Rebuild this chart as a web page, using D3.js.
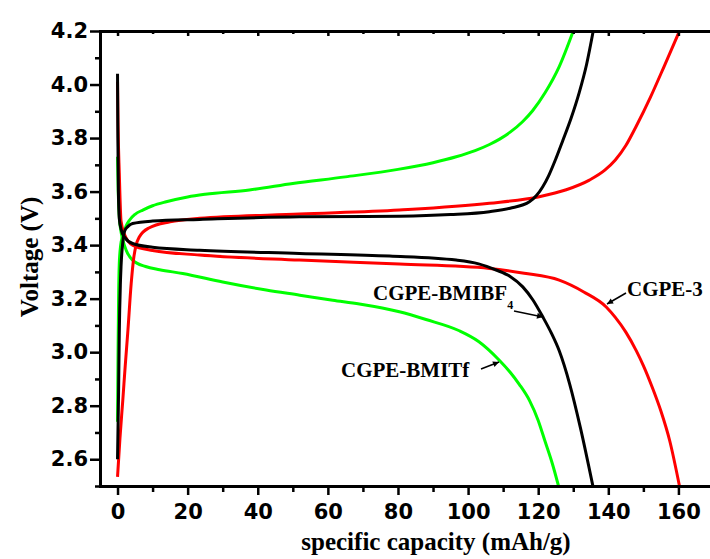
<!DOCTYPE html>
<html>
<head>
<meta charset="utf-8">
<script src="https://cdn.jsdelivr.net/npm/d3@7"></script>
<style>
  body { margin: 0; background: #fff; }
  svg { display: block; }
  .tick text { font-family: "DejaVu Sans", Arial, sans-serif; font-weight: bold; font-size: 21px; fill: #000; }
  .title { font-family: "Liberation Serif", "Times New Roman", serif; font-weight: bold; fill: #000; }
</style>
</head>
<body>
<svg width="710" height="559"></svg>
<script>
var svg = d3.select('svg');

// tick values
var xTicks = [0, 20, 40, 60, 80, 100, 120, 140, 160];
var xMinor = [10, 30, 50, 70, 90, 110, 130, 150, 170];
var yTicks = [2.6, 2.8, 3.0, 3.2, 3.4, 3.6, 3.8, 4.0, 4.2];
var yMinor = [2.5, 2.7, 2.9, 3.1, 3.3, 3.5, 3.7, 3.9, 4.1];

// CGPE-BMITf (green)
var bmitfCharge = [[0,2.74],[0.15,3.0],[0.3,3.2],[0.5,3.33],[0.9,3.4],[1.5,3.435],[2.4,3.47],[3.4,3.493],[5,3.515],[7.2,3.531],[10,3.547],[13.9,3.562],[20,3.58],[25,3.59],[37.6,3.606],[50,3.63],[65,3.655],[80,3.683],[90,3.708],[96.6,3.73],[102,3.753],[106.1,3.776],[109,3.796],[112,3.822],[115.6,3.862],[118.4,3.902],[122,3.97],[126,4.067],[130,4.2]];
var bmitfDischarge = [[0,3.73],[0.2,3.6],[0.5,3.506],[1,3.45],[1.5,3.42],[2.5,3.38],[4.3,3.344],[8,3.32],[12,3.308],[18.6,3.294],[30,3.262],[42.4,3.232],[52,3.213],[61.4,3.194],[69,3.18],[80.4,3.151],[88,3.122],[97.5,3.08],[103,3.04],[108.9,2.97],[112,2.925],[114.6,2.88],[117.5,2.82],[120,2.745],[122,2.665],[124,2.585],[125.8,2.5]];

// CGPE-BMIBF4 (black)
var bmibfCharge = [[0,2.6],[0.3,2.85],[0.5,3.07],[0.8,3.25],[1,3.32],[1.5,3.41],[2,3.452],[3,3.47],[4.3,3.481],[10,3.49],[23.4,3.496],[51.9,3.506],[80.4,3.508],[95,3.514],[106.1,3.525],[112,3.538],[117.5,3.562],[119.5,3.585],[121.3,3.618],[123,3.66],[125.1,3.725],[127,3.79],[129.4,3.875],[131.7,3.97],[133.8,4.075],[135.7,4.2]];
var bmibfDischarge = [[0,4.04],[0.1,3.8],[0.25,3.6],[0.5,3.5],[1,3.46],[2,3.43],[4.3,3.406],[10,3.392],[23.4,3.381],[51.9,3.369],[77.6,3.359],[96.6,3.344],[103,3.33],[108,3.307],[112,3.283],[115.6,3.244],[118.5,3.195],[121.3,3.132],[123.8,3.07],[126,3.005],[129,2.88],[132,2.72],[135.6,2.5]];

// CGPE-3 (red)
var cgpe3Charge = [[0,2.534],[0.7,2.68],[1.5,2.82],[2.2,2.95],[2.9,3.07],[3.9,3.257],[4.6,3.35],[5.3,3.4],[6.2,3.43],[9.1,3.465],[15,3.487],[23.4,3.5],[51.9,3.516],[80.4,3.531],[106.1,3.556],[120.3,3.581],[128,3.607],[134.6,3.643],[139,3.68],[142,3.718],[145,3.772],[148,3.845],[152,3.952],[156,4.07],[160.3,4.2]];
var cgpe3Discharge = [[0,4.01],[0.15,3.85],[0.5,3.67],[1,3.49],[2,3.44],[4.3,3.4],[10,3.38],[23.4,3.363],[51.9,3.344],[80.4,3.329],[106.1,3.313],[116,3.295],[126,3.269],[133,3.225],[139.4,3.169],[142,3.13],[145,3.075],[148,3.005],[150,2.95],[152.5,2.87],[155,2.78],[157.5,2.67],[160.3,2.5]];

var series = [
  {name: 'CGPE-BMITf', color: '#00ff00', curves: [bmitfCharge, bmitfDischarge]},
  {name: 'CGPE-3', color: '#ff0000', curves: [cgpe3Charge, cgpe3Discharge]},
  {name: 'CGPE-BMIBF4', color: '#000000', curves: [bmibfCharge, bmibfDischarge]}
];

var margin = {top: 31, left: 100};
var plotW = 631, plotH = 455;

var xScale = d3.scaleLinear().domain([-5, 175]).range([0, plotW]);
var yScale = d3.scaleLinear().domain([2.5, 4.2]).range([plotH, 0]);

var g = svg.append('g').attr('transform', 'translate(' + margin.left + ',' + margin.top + ')');

g.append('clipPath').attr('id', 'clip')
  .append('rect').attr('width', plotW).attr('height', plotH);

// curves
var line = d3.line()
  .x(d => xScale(d[0]))
  .y(d => yScale(d[1]))
  .curve(d3.curveMonotoneX);

var curves = g.append('g').attr('clip-path', 'url(#clip)');
series.forEach(s => {
  s.curves.forEach(c => {
    curves.append('path')
      .attr('d', line(c))
      .attr('fill', 'none')
      .attr('stroke', s.color)
      .attr('stroke-width', 3);
  });
});

// axes
function styleAxis(sel) {
  sel.selectAll('path').attr('stroke-width', 3).attr('stroke', '#000');
  sel.selectAll('line').attr('stroke-width', 2.5).attr('stroke', '#000');
}

g.append('g').attr('transform', 'translate(0,' + plotH + ')')
  .call(d3.axisBottom(xScale).tickValues(xTicks).tickSize(9).tickPadding(9).tickSizeOuter(0))
  .call(styleAxis);
g.append('g').attr('transform', 'translate(0,' + plotH + ')')
  .call(d3.axisBottom(xScale).tickValues(xMinor).tickSize(6).tickFormat('').tickSizeOuter(0))
  .call(styleAxis);

g.append('g')
  .call(d3.axisLeft(yScale).tickValues(yTicks).tickSize(10).tickPadding(2).tickFormat(d3.format('.1f')).tickSizeOuter(0))
  .call(styleAxis);
g.append('g')
  .call(d3.axisLeft(yScale).tickValues(yMinor).tickSize(5).tickFormat('').tickSizeOuter(0))
  .call(styleAxis);

// top frame with inner ticks
g.append('g')
  .call(d3.axisTop(xScale).tickValues(xTicks).tickSize(-5).tickFormat('').tickSizeOuter(0))
  .call(styleAxis);
g.append('g')
  .call(d3.axisTop(xScale).tickValues(xMinor).tickSize(-3).tickFormat('').tickSizeOuter(0))
  .call(styleAxis);
g.selectAll('.domain').attr('stroke-linecap', 'square');

// axis titles
svg.append('text').attr('class', 'title')
  .attr('x', 436).attr('y', 550)
  .attr('text-anchor', 'middle').style('font-size', '25px')
  .text('specific capacity (mAh/g)');

svg.append('text').attr('class', 'title')
  .attr('transform', 'translate(38,257) rotate(-90)')
  .attr('text-anchor', 'middle').style('font-size', '25px')
  .text('Voltage (V)');

// labels with arrows
svg.append('defs').append('marker')
  .attr('id', 'arrow').attr('viewBox', '0 0 10 10')
  .attr('refX', 10).attr('refY', 5)
  .attr('markerWidth', 8).attr('markerHeight', 6)
  .attr('markerUnits', 'userSpaceOnUse')
  .attr('orient', 'auto')
  .append('path').attr('d', 'M0,0L10,5L0,10z').attr('fill', '#000');

var lbl = svg.append('text').attr('class', 'title')
  .attr('x', 373).attr('y', 300).style('font-size', '21px');
lbl.append('tspan').text('CGPE-BMIBF');
lbl.append('tspan').attr('dy', 9).style('font-size', '12px').text('4');

svg.append('text').attr('class', 'title')
  .attr('x', 341).attr('y', 377).style('font-size', '21px')
  .text('CGPE-BMITf');

svg.append('text').attr('class', 'title')
  .attr('x', 627).attr('y', 296).style('font-size', '21px')
  .text('CGPE-3');

var arrows = [
  [514, 311, 543, 317],
  [481, 369, 499, 362],
  [626, 293, 607, 304]
];
arrows.forEach(a => {
  svg.append('line')
    .attr('x1', a[0]).attr('y1', a[1]).attr('x2', a[2]).attr('y2', a[3])
    .attr('stroke', '#000').attr('stroke-width', 1.5)
    .attr('marker-end', 'url(#arrow)');
});
</script>
</body>
</html>
